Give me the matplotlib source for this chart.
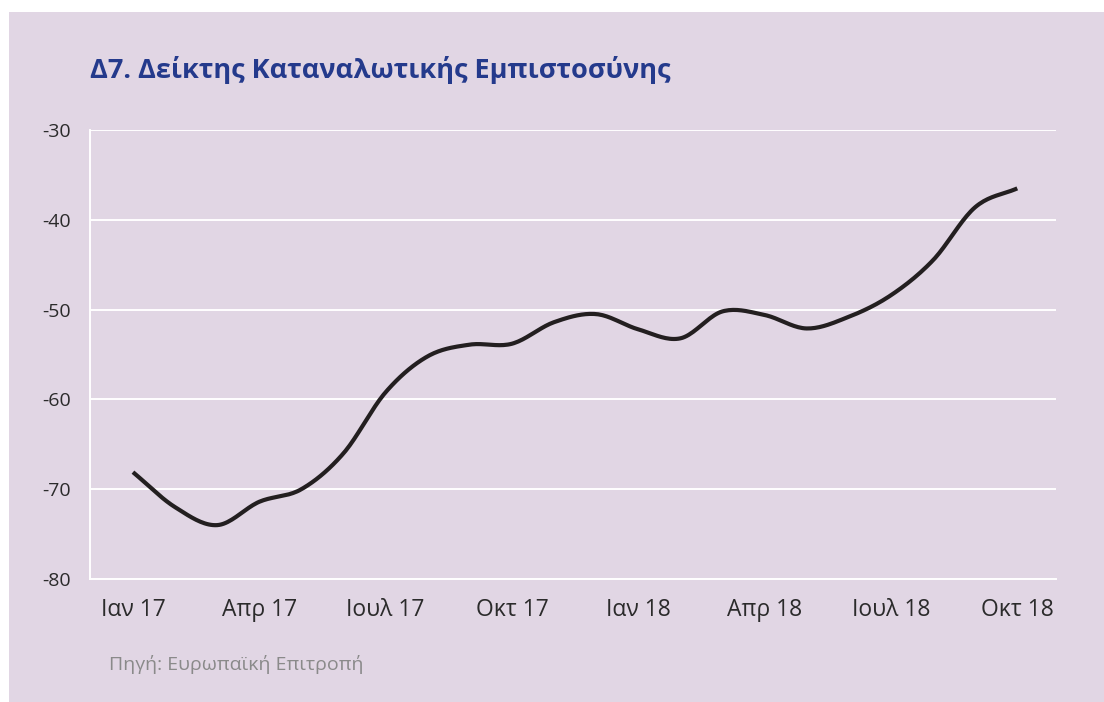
import numpy as np
import matplotlib.pyplot as plt
from matplotlib.patches import Rectangle

# Δείκτης Καταναλωτικής Εμπιστοσύνης, μηνιαία Ιαν 17 - Οκτ 18
months = ['Ιαν 17', 'Φεβ 17', 'Μαρ 17', 'Απρ 17', 'Μαι 17', 'Ιουν 17', 'Ιουλ 17',
          'Αυγ 17', 'Σεπ 17', 'Οκτ 17', 'Νοε 17', 'Δεκ 17', 'Ιαν 18', 'Φεβ 18',
          'Μαρ 18', 'Απρ 18', 'Μαι 18', 'Ιουν 18', 'Ιουλ 18', 'Αυγ 18', 'Σεπ 18', 'Οκτ 18']
values = [-68.1, -72.0, -74.0, -71.4, -70.0, -66.0, -59.2,
          -55.2, -53.9, -53.8, -51.4, -50.5, -52.2, -53.2,
          -50.2, -50.6, -52.1, -50.8, -48.4, -44.5, -38.6, -36.5]
tick_months = ['Ιαν 17', 'Απρ 17', 'Ιουλ 17', 'Οκτ 17', 'Ιαν 18', 'Απρ 18', 'Ιουλ 18', 'Οκτ 18']
yticks = [-80, -70, -60, -50, -40, -30]

bg = '#e1d6e4'
plt.rcParams['font.family'] = ['Open Sans', 'DejaVu Sans']


def smooth(x, y, n=20):
    # Catmull-Rom για ομαλή καμπύλη
    x = np.asarray(x, float)
    y = np.asarray(y, float)
    px = np.concatenate([[2 * x[0] - x[1]], x, [2 * x[-1] - x[-2]]])
    py = np.concatenate([[2 * y[0] - y[1]], y, [2 * y[-1] - y[-2]]])
    xs, ys = [], []
    t = np.linspace(0, 1, n, endpoint=False)
    for i in range(1, len(px) - 2):
        for p, out in ((px, xs), (py, ys)):
            p0, p1, p2, p3 = p[i - 1], p[i], p[i + 1], p[i + 2]
            out.extend(0.5 * ((2 * p1) + (-p0 + p2) * t + (2 * p0 - 5 * p1 + 4 * p2 - p3) * t ** 2
                              + (-p0 + 3 * p1 - 3 * p2 + p3) * t ** 3))
    xs.append(x[-1])
    ys.append(y[-1])
    return np.array(xs), np.array(ys)


fig = plt.figure(figsize=(11.04, 7.02), dpi=100)
fig.patch.set_facecolor('white')
fig.patches.append(Rectangle((9 / 1104, 0), 1, 1 - 12 / 702, transform=fig.transFigure,
                             facecolor=bg, edgecolor='none', zorder=-5))

ax = fig.add_axes([90 / 1104, 1 - 579 / 702, (1056 - 90) / 1104, (579 - 130) / 702])
ax.set_facecolor(bg)

x = np.arange(len(months))
sx, sy = smooth(x, values)
ax.plot(sx, sy, color='#231f20', lw=3, solid_capstyle='butt', zorder=3)

ax.set_xlim(-1.02, 21.92)
ax.set_ylim(-80, -30)
ax.set_yticks(yticks)
ax.set_yticklabels([str(v) for v in yticks])
ax.set_xticks([months.index(m) for m in tick_months])
ax.set_xticklabels(tick_months)
ax.grid(axis='y', color='white', lw=1.4)
ax.set_axisbelow(True)
for s in ['top', 'right']:
    ax.spines[s].set_visible(False)
for s in ['left', 'bottom']:
    ax.spines[s].set_color('white')
    ax.spines[s].set_linewidth(1.4)
ax.tick_params(axis='x', length=0, pad=14, labelsize=16.5, labelcolor='#2b2b2b')
ax.tick_params(axis='y', length=0, pad=14, labelsize=14, labelcolor='#2b2b2b')

fig.text(90 / 1104, 1 - 70 / 702, 'Δ7. Δείκτης Καταναλωτικής Εμπιστοσύνης', fontsize=19.5,
         fontweight='bold', color='#243a8c', va='center', ha='left')
fig.text(109 / 1104, 1 - 665 / 702, 'Πηγή: Ευρωπαϊκή Επιτροπή', fontsize=14,
         color='#8a8a8a', va='center', ha='left')

fig.savefig('out.png', dpi=100, facecolor='white')
